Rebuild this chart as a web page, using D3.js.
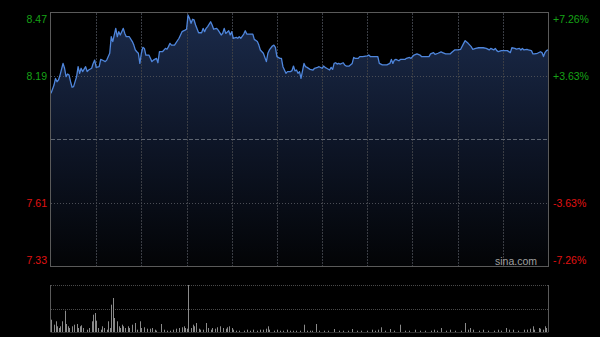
<!DOCTYPE html>
<html><head><meta charset="utf-8">
<script src="https://cdn.jsdelivr.net/npm/d3@7/dist/d3.min.js"></script>
<style>html,body{margin:0;padding:0;background:#000;}svg{display:block;}</style>
</head><body><svg id="c" width="600" height="337"></svg>
<script>
const prevClose = 7.90;
const maxPct = 7.26;
const pctSteps = [-7.26, -3.63, 0, 3.63, 7.26];
const gridTimes = ["10:00","10:30","11:00","11:30","12:00","13:30","14:00","14:30","15:00","15:30"];

const priceTimes = ["09:30","09:32","09:33","09:34","09:35","09:36","09:38","09:39","09:40","09:41","09:42","09:43","09:44","09:45","09:47","09:48","09:49","09:50","09:51","09:53","09:54","09:55","09:57","09:58","09:59","10:00","10:02","10:03","10:05","10:06","10:07","10:09","10:10","10:11","10:13","10:14","10:15","10:16","10:18","10:19","10:20","10:22","10:24","10:25","10:26","10:27","10:28","10:29","10:30","10:31","10:32","10:33","10:35","10:36","10:37","10:38","10:40","10:41","10:42","10:44","10:46","10:47","10:48","10:49","10:50","10:51","10:52","10:55","10:57","10:59","11:00","11:01","11:02","11:03","11:04","11:05","11:06","11:08","11:10","11:11","11:12","11:13","11:14","11:16","11:17","11:18","11:20","11:21","11:23","11:24","11:25","11:26","11:28","11:29","11:30","11:31","11:33","11:34","11:35","11:36","11:38","11:39","11:40","11:41","11:44","11:45","11:47","11:48","11:49","11:51","11:53","11:54","11:55","11:57","11:58","11:59","12:00","13:02","13:03","13:04","13:06","13:07","13:09","13:10","13:11","13:12","13:13","13:14","13:15","13:16","13:18","13:19","13:20","13:22","13:24","13:25","13:27","13:28","13:30","13:31","13:32","13:33","13:35","13:36","13:37","13:38","13:39","13:40","13:41","13:42","13:44","13:45","13:46","13:48","13:50","13:51","13:52","13:54","13:55","13:57","14:00","14:01","14:02","14:04","14:07","14:08","14:10","14:12","14:13","14:15","14:16","14:17","14:18","14:19","14:21","14:22","14:23","14:25","14:26","14:28","14:29","14:31","14:33","14:35","14:36","14:38","14:41","14:42","14:44","14:45","14:47","14:49","14:50","14:52","14:55","14:56","14:58","15:00","15:02","15:04","15:05","15:07","15:09","15:10","15:12","15:14","15:17","15:19","15:21","15:22","15:24","15:25","15:26","15:27","15:29","15:31","15:33","15:35","15:36","15:38","15:39","15:41","15:42","15:43","15:44","15:46","15:47","15:49","15:50","15:51","15:53","15:55","15:56","15:57","15:58","15:59","16:00"];
const prices = [8.109,8.147,8.177,8.162,8.170,8.192,8.245,8.223,8.185,8.197,8.192,8.162,8.137,8.140,8.185,8.230,8.200,8.223,8.208,8.230,8.208,8.215,8.223,8.245,8.260,8.227,8.230,8.263,8.257,8.253,8.260,8.291,8.366,8.344,8.404,8.366,8.389,8.374,8.404,8.381,8.366,8.366,8.344,8.328,8.306,8.298,8.291,8.245,8.291,8.318,8.313,8.283,8.283,8.268,8.253,8.260,8.268,8.248,8.298,8.298,8.313,8.309,8.321,8.336,8.328,8.328,8.328,8.359,8.389,8.396,8.400,8.464,8.449,8.427,8.445,8.442,8.419,8.384,8.384,8.404,8.389,8.404,8.412,8.434,8.419,8.400,8.404,8.396,8.374,8.381,8.404,8.381,8.393,8.374,8.389,8.359,8.363,8.359,8.366,8.359,8.378,8.393,8.378,8.378,8.378,8.354,8.344,8.328,8.306,8.291,8.253,8.291,8.306,8.324,8.328,8.318,8.276,8.268,8.268,8.230,8.200,8.208,8.208,8.212,8.233,8.211,8.215,8.200,8.208,8.177,8.245,8.230,8.227,8.218,8.215,8.223,8.227,8.230,8.223,8.233,8.227,8.223,8.215,8.227,8.218,8.245,8.248,8.242,8.245,8.242,8.248,8.238,8.233,8.233,8.245,8.272,8.268,8.268,8.276,8.276,8.279,8.283,8.276,8.276,8.276,8.245,8.238,8.238,8.238,8.245,8.263,8.245,8.260,8.263,8.257,8.263,8.263,8.263,8.268,8.272,8.268,8.283,8.288,8.283,8.276,8.276,8.276,8.288,8.294,8.286,8.291,8.297,8.294,8.288,8.288,8.294,8.306,8.306,8.309,8.336,8.348,8.336,8.321,8.309,8.313,8.316,8.316,8.313,8.306,8.313,8.306,8.313,8.303,8.298,8.303,8.303,8.303,8.294,8.316,8.313,8.310,8.313,8.306,8.313,8.306,8.309,8.306,8.303,8.288,8.288,8.291,8.298,8.294,8.276,8.294,8.303,8.306];

const volTimes = ["09:30","09:32","09:33","09:34","09:35","09:36","09:37","09:39","09:40","09:41","09:42","09:44","09:45","09:47","09:48","09:49","09:50","09:51","09:54","09:55","09:57","09:58","09:59","10:00","10:01","10:03","10:04","10:05","10:07","10:08","10:09","10:10","10:11","10:12","10:14","10:15","10:16","10:17","10:18","10:19","10:21","10:22","10:24","10:26","10:27","10:29","10:30","10:32","10:34","10:36","10:37","10:39","10:40","10:43","10:45","10:47","10:49","10:51","10:53","10:55","10:57","10:58","10:59","11:00","11:01","11:03","11:04","11:05","11:06","11:08","11:09","11:11","11:13","11:14","11:16","11:17","11:19","11:20","11:22","11:24","11:26","11:27","11:28","11:30","11:31","11:33","11:35","11:38","11:40","11:42","11:44","11:47","11:49","11:51","11:53","11:54","11:55","11:58","12:00","13:02","13:04","13:07","13:09","13:11","13:13","13:15","13:18","13:20","13:22","13:23","13:26","13:28","13:31","13:34","13:38","13:41","13:44","13:47","13:50","13:53","13:56","14:00","14:03","14:05","14:07","14:09","14:12","14:15","14:18","14:22","14:25","14:28","14:32","14:35","14:38","14:42","14:44","14:46","14:49","14:52","14:55","14:58","15:02","15:05","15:07","15:08","15:10","15:14","15:17","15:20","15:24","15:27","15:29","15:32","15:34","15:37","15:40","15:44","15:46","15:48","15:50","15:51","15:54","15:55","15:57","15:58","15:59"];
const volumes = [123,73,107,57,40,57,107,213,80,57,40,57,73,80,40,57,67,40,23,40,107,173,190,113,40,23,57,40,23,107,40,273,340,140,107,57,40,73,57,40,57,40,73,90,23,107,40,47,33,33,40,23,13,80,23,13,13,23,33,40,47,57,40,33,470,40,73,57,90,33,23,23,90,40,23,40,33,47,57,40,33,47,57,40,23,13,13,13,23,13,23,13,23,23,33,57,23,13,23,13,13,23,13,13,13,13,73,13,13,13,80,13,13,13,30,13,13,13,30,13,13,13,23,13,23,47,13,30,13,73,13,13,23,13,13,13,23,13,40,13,23,13,13,90,23,40,23,13,23,13,13,23,13,40,23,23,13,23,23,33,57,23,40,33,23,57,40];

// time "HH:MM" -> trading minute index (HK session: 09:30-12:00, 13:00-16:00)
function idx(t){
  const [h,m] = t.split(":").map(Number);
  const mins = h*60+m;
  return mins <= 720 ? mins - 570 : 150 + (mins - 780);
}

const svg = d3.select("#c");
const L = 51, R = 548, T = 13, B = 266;
const VT = 285, VB = 332;

const x = d3.scaleLinear().domain([0,330]).range([L,R]);
const y = d3.scaleLinear().domain([prevClose*(1-maxPct/100), prevClose*(1+maxPct/100)]).range([B,T]);
const yv = d3.scaleLinear().domain([0, d3.max(volumes)]).range([VB,VT]);

// gradient
const defs = svg.append("defs");
const grad = defs.append("linearGradient").attr("id","fillg").attr("gradientUnits","userSpaceOnUse")
  .attr("x1",0).attr("y1",T).attr("x2",0).attr("y2",B);
grad.append("stop").attr("offset","0%").attr("stop-color","#1b2b4b");
grad.append("stop").attr("offset","50%").attr("stop-color","#0e1628");
grad.append("stop").attr("offset","100%").attr("stop-color","#030406");

const pts = priceTimes.map((t,i)=>({i:idx(t), p:prices[i]}));

// area
svg.append("path").datum(pts)
  .attr("d", d3.area().x(d=>x(d.i)).y0(B).y1(d=>y(d.p)))
  .attr("fill","url(#fillg)");

// vertical grid
const gx = svg.append("g");
gridTimes.forEach(t=>{
  const xx = Math.round(x(idx(t)))+0.5;
  gx.append("line").attr("x1",xx).attr("x2",xx).attr("y1",T).attr("y2",B)
    .attr("stroke","#3a3d44").attr("stroke-width",1).attr("stroke-dasharray","2,1");
});
// horizontal grid
pctSteps.forEach(p=>{
  if (Math.abs(p) === maxPct) return;
  const yy = Math.round(y(prevClose*(1+p/100)))+0.5;
  svg.append("line").attr("x1",L).attr("x2",R).attr("y1",yy).attr("y2",yy)
    .attr("stroke", p===0 ? "#5d6470" : "#4a4d55").attr("stroke-width",1)
    .attr("stroke-dasharray", p===0 ? "4,2" : "1,2");
});

// line
svg.append("path").datum(pts)
  .attr("d", d3.line().x(d=>x(d.i)).y(d=>y(d.p)))
  .attr("fill","none").attr("stroke","#4f86dc").attr("stroke-width",1.3).attr("stroke-linejoin","round");

// border
svg.append("rect").attr("x",L-0.5).attr("y",T-0.5).attr("width",R-L+1).attr("height",B-T+1)
  .attr("fill","none").attr("stroke","#5a5a5a").attr("stroke-width",1);

// axes labels
const tickVals = pctSteps.filter(p=>p!==0).map(p=>prevClose*(1+p/100));
const colorOf = v => v > prevClose ? "#16a316" : "#e01212";
const nudge = v => v >= y.domain()[1]-1e-9 ? 6 : (v <= y.domain()[0]+1e-9 ? -6 : 0);

const axL = svg.append("g").attr("transform",`translate(${L-4},0)`)
  .call(d3.axisLeft(y).tickValues(tickVals).tickSize(0).tickPadding(0).tickFormat(d3.format(".2f")));
axL.select(".domain").remove();
axL.selectAll("text").attr("fill",d=>colorOf(d)).attr("font-family","Liberation Sans, Arial, sans-serif")
  .attr("font-size","10.5px").attr("y",d=>nudge(d));

const axR = svg.append("g").attr("transform",`translate(${R+5},0)`)
  .call(d3.axisRight(y).tickValues(tickVals).tickSize(0).tickPadding(0)
    .tickFormat(d=>{const p=(d/prevClose-1)*100; return (p>0?"+":"-")+Math.abs(p).toFixed(2)+"%";}));
axR.select(".domain").remove();
axR.selectAll("text").attr("fill",d=>colorOf(d)).attr("font-family","Liberation Sans, Arial, sans-serif")
  .attr("font-size","10.5px").attr("y",d=>nudge(d));

// watermark
svg.append("text").attr("x",537).attr("y",265).attr("text-anchor","end")
  .attr("font-family","Liberation Sans, Arial, sans-serif").attr("font-size","10.5px")
  .attr("fill","#a0a0a0").text("sina.com");

// volume panel
[VT, (VT+VB)/2].forEach(yy=>{
  const r = Math.round(yy)+0.5;
  svg.append("line").attr("x1",L).attr("x2",R).attr("y1",r).attr("y2",r)
    .attr("stroke","#4a4a4a").attr("stroke-dasharray","1,1");
});
svg.selectAll("line.vb").data(volTimes.map((t,i)=>({i:idx(t), v:volumes[i]}))).enter()
  .append("line").attr("class","vb")
  .attr("x1",d=>Math.round(x(d.i))+0.5).attr("x2",d=>Math.round(x(d.i))+0.5)
  .attr("y1",VB).attr("y2",d=>yv(d.v))
  .attr("stroke","#8a8a8a").attr("stroke-width",1);
svg.append("line").attr("x1",L-0.5).attr("x2",L-0.5).attr("y1",VT).attr("y2",VB).attr("stroke","#5a5a5a");
svg.append("line").attr("x1",R+0.5).attr("x2",R+0.5).attr("y1",VT).attr("y2",VB).attr("stroke","#5a5a5a");
svg.append("line").attr("x1",L-0.5).attr("x2",R+0.5).attr("y1",VB+0.5).attr("y2",VB+0.5).attr("stroke","#2e2e2e");
</script></body></html>
